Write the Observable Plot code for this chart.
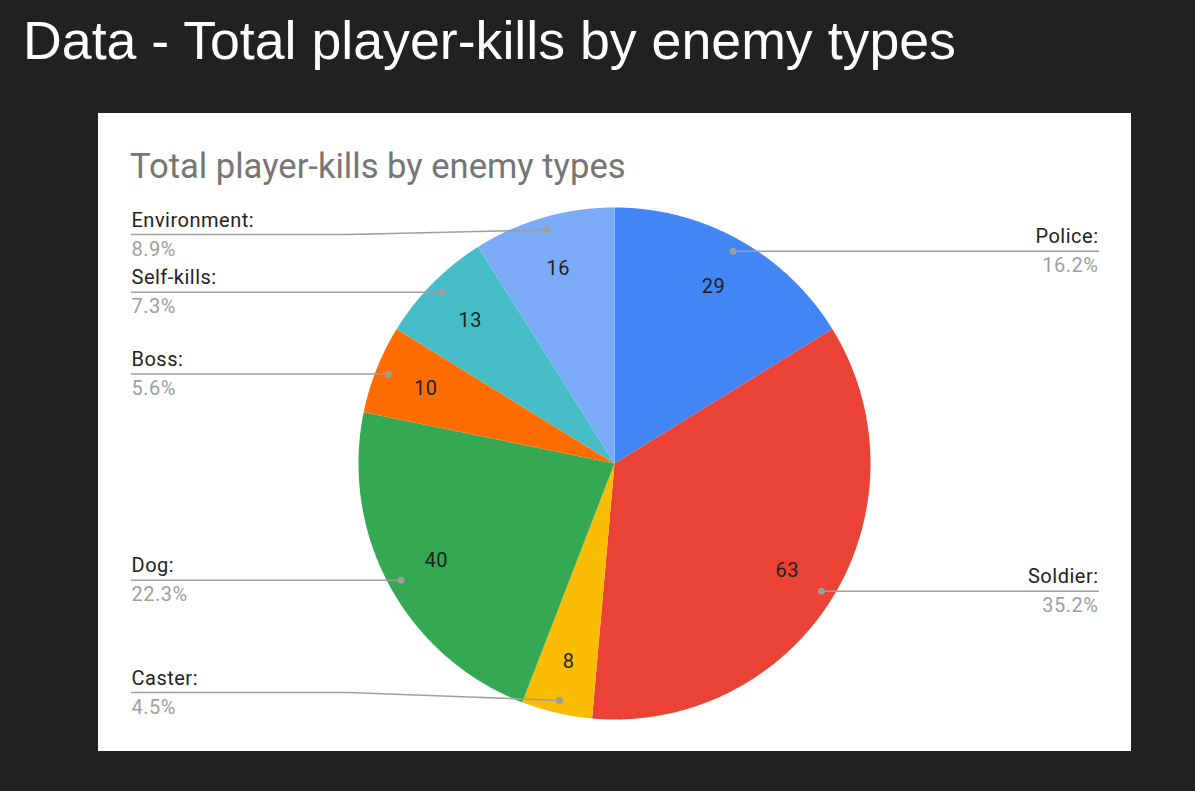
<!DOCTYPE html>
<html>
<head>
<meta charset="utf-8">
<script src="https://cdn.jsdelivr.net/npm/d3@7"></script>
<script src="https://cdn.jsdelivr.net/npm/@observablehq/plot@0.6"></script>
<style>
  html, body { margin: 0; padding: 0; background: #212121; width: 1195px; height: 791px; overflow: hidden; }
  #title { position: absolute; left: 23px; top: 0px; font-family: "Liberation Sans", Arial, sans-serif; font-size: 53.7px; color: #ffffff; line-height: 1; white-space: nowrap; }
  #panel { position: absolute; left: 98px; top: 113px; width: 1033px; height: 638px; background: #ffffff; }
  #subtitle { position: absolute; left: 32px; top: 0px; font-family: Roboto, sans-serif; font-size: 34.6px; color: #757575; white-space: nowrap; line-height: 1; }
  #chart { position: absolute; left: 0; top: 0; }
  #chart text { letter-spacing: 0.5px; }
</style>
</head>
<body>
<div id="title">Data - Total player-kills by enemy types</div>
<div id="panel">
  <div id="chart"></div>
  <div id="subtitle">Total player-kills by enemy types</div>
</div>
<script>
const categories = ["Police", "Soldier", "Caster", "Dog", "Boss", "Self-kills", "Environment"];
const values = [29, 63, 8, 40, 10, 13, 16];
const colors = ["#4285F4", "#EA4335", "#FBBC04", "#34A853", "#FF6D01", "#46BDC6", "#7BAAF7"];

// layout (panel pixel space)
const W = 1033, H = 638, CX = 516, CY = 350, R = 256;
const ux = px => (px - CX) / R;
const uy = py => (CY - py) / R;

const total = d3.sum(values);
const arcs = d3.pie().sort(null).value(d => d)(values);

const slicePts = [];
arcs.forEach((a, i) => {
  const name = categories[i];
  slicePts.push({name, color: colors[i], x: 0, y: 0});
  const n = Math.max(2, Math.ceil((a.endAngle - a.startAngle) / (Math.PI / 720)));
  for (let k = 0; k <= n; k++) {
    const t = a.startAngle + (a.endAngle - a.startAngle) * k / n;
    slicePts.push({name, color: colors[i], x: Math.sin(t), y: Math.cos(t)});
  }
  slicePts.push({name, color: colors[i], x: 0, y: 0});
});

const fmtPct = v => (Math.round(v / total * 1000) / 10).toFixed(1) + "%";

const labels = arcs.map((a, i) => {
  const mid = (a.startAngle + a.endAngle) / 2;
  const right = mid < Math.PI;
  const dx = 0.95 * Math.sin(mid), dy = 0.95 * Math.cos(mid);
  const dotPy = CY - dy * R;
  const linePy = Math.min(579, Math.max(121, dotPy));
  const textPx = right ? 1000 : 33;
  const bendPx = right ? 783 : 250;
  return {
    name: categories[i], value: values[i], pct: fmtPct(values[i]), right,
    vx: 0.793 * Math.sin(mid), vy: 0.793 * Math.cos(mid),
    dotX: dx, dotY: dy, textX: ux(textPx), lineY: uy(linePy), bendX: ux(bendPx)
  };
});

const leaderPts = labels.flatMap(l => [
  {name: l.name, x: l.textX, y: l.lineY},
  {name: l.name, x: l.bendX, y: l.lineY},
  {name: l.name, x: l.dotX, y: l.dotY}
]);

const chart = Plot.plot({
  width: W, height: H, margin: 0,
  x: {domain: [ux(0), ux(W)], axis: null},
  y: {domain: [uy(H), uy(0)], axis: null},
  color: {type: "identity"},
  style: {background: "transparent", fontFamily: "Roboto, sans-serif"},
  marks: [
    Plot.line(slicePts, {x: "x", y: "y", z: "name", fill: "color", stroke: "none", curve: "linear"}),
    Plot.line(leaderPts, {x: "x", y: "y", z: "name", stroke: "#9e9e9e", strokeWidth: 1.5, curve: "linear"}),
    Plot.dot(labels, {x: "dotX", y: "dotY", r: 3.5, fill: "#9e9e9e", stroke: "none"}),
    Plot.text(labels, {x: "vx", y: "vy", text: d => String(d.value), fontSize: 20, fill: "#212121", textAnchor: "middle"}),
    Plot.text(labels.filter(d => d.right), {x: "textX", y: "lineY", text: d => d.name + ":", fontSize: 20, fill: "#222222", textAnchor: "end", lineAnchor: "bottom", dy: -8}),
    Plot.text(labels.filter(d => !d.right), {x: "textX", y: "lineY", text: d => d.name + ":", fontSize: 20, fill: "#222222", textAnchor: "start", lineAnchor: "bottom", dy: -8}),
    Plot.text(labels.filter(d => d.right), {x: "textX", y: "lineY", text: "pct", fontSize: 20, fill: "#9e9e9e", textAnchor: "end", lineAnchor: "bottom", dy: 21}),
    Plot.text(labels.filter(d => !d.right), {x: "textX", y: "lineY", text: "pct", fontSize: 20, fill: "#9e9e9e", textAnchor: "start", lineAnchor: "bottom", dy: 21})
  ]
});
document.getElementById("chart").appendChild(chart);

// position titles so their baselines match
document.getElementById("title").style.top = (63 - 53.7 * 0.905) + "px";
document.getElementById("subtitle").style.top = (68 - 34.6 * 0.93) + "px";
</script>
</body>
</html>
